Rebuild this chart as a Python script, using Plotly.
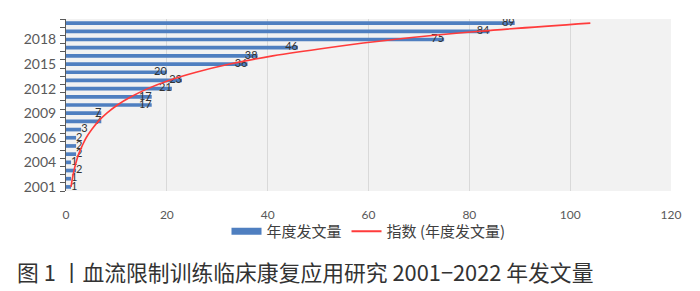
import plotly.graph_objects as go

# ---- data ----
category_index = list(range(21))
tick_positions = [0, 3, 6, 9, 12, 15, 18]
tick_labels = ["2001", "2004", "2006", "2009", "2012", "2015", "2018"]
annual_counts = [1, 1, 2, 1, 2, 2, 2, 3, 7, 7, 17, 17, 21, 23, 20, 36, 38, 46, 75, 84, 89]
trend_values = [1.0, 1.26, 1.59, 2.0, 2.5, 3.2, 4.0, 5.1, 6.4, 8.1, 10.2, 12.9, 16.2,
                20.4, 25.8, 32.5, 41, 52, 65, 82, 104]
x_ticks = [0, 20, 40, 60, 80, 100, 120]

bar_name = "年度发文量"
trend_name = "指数 (年度发文量)"
caption = "图 1 丨血流限制训练临床康复应用研究 2001−2022 年发文量"

BLUE = "#4f7fc0"
RED = "#ff3b3b"
TXT = "#404040"

fig = go.Figure()

fig.add_trace(go.Bar(
    x=annual_counts, y=category_index, orientation="h",
    marker=dict(color=BLUE, line=dict(width=0)),
    showlegend=False, hoverinfo="x+y",
))

label_pos = ["middle left" if v >= 5 else "middle right" for v in annual_counts]
fig.add_trace(go.Scatter(
    x=annual_counts, y=category_index, mode="text",
    text=[str(v) for v in annual_counts], textposition=label_pos,
    textfont=dict(size=11, color="#333333", family="Lato, Noto Sans CJK SC"),
    showlegend=False, hoverinfo="skip",
))

fig.add_trace(go.Scatter(
    x=trend_values, y=category_index, mode="lines",
    line=dict(color=RED, width=1.6, shape="spline"),
    showlegend=False, hoverinfo="skip",
))

# legend entries
fig.add_trace(go.Scatter(x=[None], y=[None], mode="lines", name=bar_name,
                         line=dict(color=BLUE, width=7)))
fig.add_trace(go.Scatter(x=[None], y=[None], mode="lines", name=trend_name,
                         line=dict(color=RED, width=2)))

# page body has an 8px margin, so the figure is 8px smaller and shifted
fig.update_layout(
    width=692, height=283,
    margin=dict(l=58, r=29, t=11, b=100),
    paper_bgcolor="white", plot_bgcolor="#f2f2f2",
    bargap=0.55,
    font=dict(family="Lato, Noto Sans CJK SC", size=11, color="#595959"),
    legend=dict(orientation="h", x=0.5, xanchor="center", y=-0.14, yanchor="top",
                font=dict(size=15, color=TXT, family="Noto Sans CJK SC"),
                itemwidth=30, bgcolor="rgba(0,0,0,0)"),
    xaxis=dict(range=[0, 120], tickvals=x_ticks, showgrid=True, gridcolor="#d9d9d9",
               gridwidth=1, zeroline=False, showline=False, automargin=False,
               ticks="outside", ticklen=13, tickcolor="rgba(0,0,0,0)",
               tickfont=dict(size=12, color="#595959")),
    yaxis=dict(range=[-0.5, 20.5], tickvals=tick_positions, ticktext=tick_labels,
               showgrid=False, zeroline=False, showline=True, linecolor="#595959",
               linewidth=1, automargin=False,
               ticks="outside", ticklen=6, tickcolor="rgba(0,0,0,0)",
               minor=dict(tickmode="array", tickvals=[i - 0.5 for i in range(22)],
                          ticks="outside", ticklen=5, tickcolor="#595959", showgrid=False),
               tickfont=dict(size=14, color="#595959")),
    showlegend=True,
)

fig.add_annotation(
    text=caption, xref="paper", yref="paper", x=-0.085, y=-0.47,
    xanchor="left", yanchor="middle", showarrow=False,
    font=dict(size=21.8, color="#333333", family="Noto Sans CJK SC"),
)

fig.write_html("out.html")
